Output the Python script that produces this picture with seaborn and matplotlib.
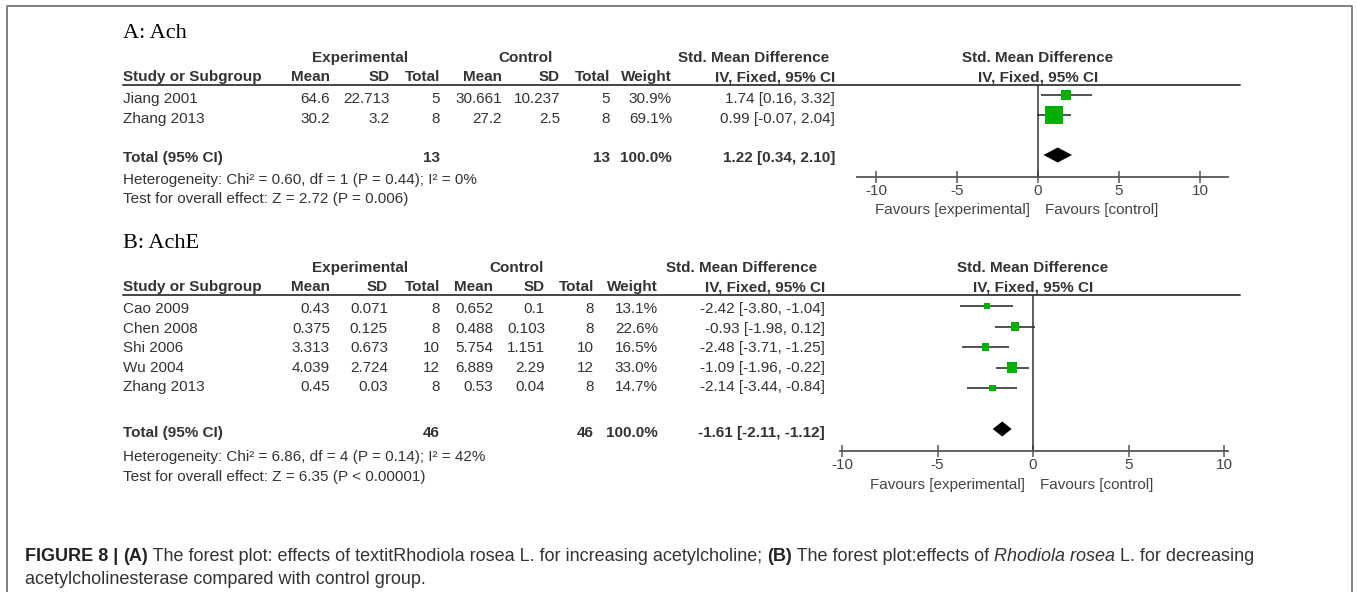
import matplotlib
matplotlib.use('Agg')
import matplotlib.pyplot as plt
import seaborn as sns
import pandas as pd

W, H = 1357, 592

# ---- Panel A: Ach ----
a_study = ['Jiang 2001', 'Zhang 2013']
a_exp_mean = ['64.6', '30.2']
a_exp_sd = ['22.713', '3.2']
a_exp_n = [5, 8]
a_ctl_mean = ['30.661', '27.2']
a_ctl_sd = ['10.237', '2.5']
a_ctl_n = [5, 8]
a_weight = [30.9, 69.1]
a_smd = [1.74, 0.99]
a_lo = [0.16, -0.07]
a_hi = [3.32, 2.04]
# total: exp n, ctl n, weight, smd, lo, hi
a_total = (13, 13, 100.0, 1.22, 0.34, 2.10)
a_het = 'Heterogeneity: Chi\u00b2 = 0.60, df = 1 (P = 0.44); I\u00b2 = 0%'
a_test = 'Test for overall effect: Z = 2.72 (P = 0.006)'

# ---- Panel B: AchE ----
b_study = ['Cao 2009', 'Chen 2008', 'Shi 2006', 'Wu 2004', 'Zhang 2013']
b_exp_mean = ['0.43', '0.375', '3.313', '4.039', '0.45']
b_exp_sd = ['0.071', '0.125', '0.673', '2.724', '0.03']
b_exp_n = [8, 8, 10, 12, 8]
b_ctl_mean = ['0.652', '0.488', '5.754', '6.889', '0.53']
b_ctl_sd = ['0.1', '0.103', '1.151', '2.29', '0.04']
b_ctl_n = [8, 8, 10, 12, 8]
b_weight = [13.1, 22.6, 16.5, 33.0, 14.7]
b_smd = [-2.42, -0.93, -2.48, -1.09, -2.14]
b_lo = [-3.80, -1.98, -3.71, -1.96, -3.44]
b_hi = [-1.04, 0.12, -1.25, -0.22, -0.84]
b_total = (46, 46, 100.0, -1.61, -2.11, -1.12)
b_het = 'Heterogeneity: Chi\u00b2 = 6.86, df = 4 (P = 0.14); I\u00b2 = 42%'
b_test = 'Test for overall effect: Z = 6.35 (P < 0.00001)'

ticks = [-10, -5, 0, 5, 10]

sns.set_style('white')
plt.rcParams['font.family'] = ['Liberation Sans', 'DejaVu Sans']

TXT = '#333333'
FS = 11
GREEN = '#00b000'

fig = plt.figure(figsize=(W / 100, H / 100), dpi=100)
bg = fig.add_axes([0, 0, 1, 1])
bg.set_xlim(0, W)
bg.set_ylim(H, 0)
bg.axis('off')

# frame around the figure
bg.plot([7, 7, 1352, 1352], [H + 5, 6, 6, H + 5], color='#777777', lw=1.3)


def t(x, y, s, ha='left', bold=False, size=FS, color=TXT, **kw):
    return bg.text(x, y, s, ha=ha, va='center', fontsize=size,
                   fontweight='bold' if bold else 'normal', color=color, **kw)


def panel(title, lay, study, em, esd, en, cm, csd, cn, w, smd, lo, hi, total, het, test):
    t(123, lay['title_y'], title, size=16, color='black', family='Liberation Serif')
    h1, h2 = lay['head1_y'], lay['head2_y']
    t(360, h1, 'Experimental', ha='center', bold=True)
    t(lay['ctl_c'], h1, 'Control', ha='center', bold=True)
    t(lay['smd_c'], h1, 'Std. Mean Difference', ha='center', bold=True)
    t(lay['zero'], h1, 'Std. Mean Difference', ha='center', bold=True)
    t(123, h2, 'Study or Subgroup', bold=True)
    heads = ['Mean', 'SD', 'Total', 'Mean', 'SD', 'Total', 'Weight', 'IV, Fixed, 95% CI']
    cols = lay['cols']
    for x, hd in zip(cols, heads):
        t(x, h2, hd, ha='right', bold=True)
    t(lay['zero'], h2, 'IV, Fixed, 95% CI', ha='center', bold=True)
    bg.plot([123, 1240], [lay['line_y']] * 2, color='#444444', lw=1.4)

    for i in range(len(study)):
        y = lay['row_y0'] + i * lay['row_dy']
        t(123, y, study[i])
        vals = [em[i], esd[i], str(en[i]), cm[i], csd[i], str(cn[i]),
                f'{w[i]:.1f}%', f'{smd[i]:.2f} [{lo[i]:.2f}, {hi[i]:.2f}]']
        for x, v in zip(cols, vals):
            t(x, y, v, ha='right')

    ne, nc, tw, te, tlo, thi = total
    ty = lay['total_y']
    t(123, ty, 'Total (95% CI)', bold=True)
    t(cols[2], ty, str(ne), ha='right', bold=True)
    t(cols[5], ty, str(nc), ha='right', bold=True)
    t(cols[6], ty, f'{tw:.1f}%', ha='right', bold=True)
    t(cols[7], ty, f'{te:.2f} [{tlo:.2f}, {thi:.2f}]', ha='right', bold=True)
    t(123, lay['het_y'], het)
    t(123, lay['test_y'], test)

    # forest plot
    x0, x1, y0, y1 = lay['forest']
    zero, scale, r0, dy = lay['zero'], lay['scale'], lay['mark_y0'], lay['mark_dy']
    ax = fig.add_axes([x0 / W, 1 - y1 / H, (x1 - x0) / W, (y1 - y0) / H])
    ax.set_xlim((x0 - zero) / scale, (x1 - zero) / scale)
    ax.set_ylim((y1 - r0) / dy, (y0 - r0) / dy)
    ax.patch.set_alpha(0)
    for s in ['left', 'right', 'top']:
        ax.spines[s].set_visible(False)
    ax.spines['bottom'].set_color('#555555')
    ax.spines['bottom'].set_linewidth(1.3)
    ax.set_yticks([])
    ax.set_xticks(ticks)
    ax.set_xticklabels([str(v) for v in ticks])
    ax.tick_params(axis='x', direction='inout', length=8.6, width=1.1, color='#555555',
                   labelcolor='#444444', labelsize=FS, pad=1, bottom=True)
    ax.axvline(0, color='#333333', lw=1.1, zorder=1)

    rows = list(range(len(study)))
    ax.hlines(rows, lo, hi, color='#333333', lw=1.2, zorder=2)
    df = pd.DataFrame({'smd': smd, 'row': rows, 'weight': w})
    sizes = {v: ((4.0 + 0.19 * v) * 0.72) ** 2 for v in w}
    sns.scatterplot(data=df, x='smd', y='row', size='weight', sizes=sizes, marker='s',
                    color=GREEN, linewidth=0, legend=False, ax=ax, zorder=3)
    ax.set_xlabel('')
    ax.set_ylabel('')
    trow = len(study) + 1
    hh = 7.5 / dy
    ax.fill([tlo, te, thi, te], [trow, trow - hh, trow, trow + hh], color='black', lw=0, zorder=3)

    fy = lay['fav_y']
    t(zero - 8, fy, 'Favours [experimental]', ha='right', color='#444444')
    t(zero + 7, fy, 'Favours [control]', ha='left', color='#444444')


lay_a = dict(title_y=33, head1_y=58, head2_y=77, line_y=85, row_y0=99, row_dy=20,
             total_y=158, het_y=180, test_y=199,
             cols=[330, 390, 440, 502, 560, 610, 672, 835], ctl_c=526, smd_c=754,
             forest=(857, 1228, 85, 177), zero=1038, scale=16.2, mark_y0=95, mark_dy=20,
             fav_y=210)
lay_b = dict(title_y=243, head1_y=268, head2_y=287, line_y=294.5, row_y0=309, row_dy=19.6,
             total_y=433, het_y=457, test_y=477,
             cols=[330, 388, 440, 493, 545, 594, 658, 825], ctl_c=517, smd_c=742,
             forest=(840, 1228, 294.5, 451), zero=1033, scale=19.1, mark_y0=306, mark_dy=20.5,
             fav_y=485)

panel('A: Ach', lay_a, a_study, a_exp_mean, a_exp_sd, a_exp_n, a_ctl_mean, a_ctl_sd, a_ctl_n,
      a_weight, a_smd, a_lo, a_hi, a_total, a_het, a_test)
panel('B: AchE', lay_b, b_study, b_exp_mean, b_exp_sd, b_exp_n, b_ctl_mean, b_ctl_sd, b_ctl_n,
      b_weight, b_smd, b_lo, b_hi, b_total, b_het, b_test)

# caption with mixed styles
CFS = 12.95
cap1 = [('FIGURE 8 | ', 'bold', 'normal'), ('(A)', 'bold', 'normal'),
        (' The forest plot: effects of textitRhodiola rosea L. for increasing acetylcholine; ', 'normal', 'normal'),
        ('(B)', 'bold', 'normal'), (' The forest plot:effects of ', 'normal', 'normal'),
        ('Rhodiola rosea', 'normal', 'italic'), (' L. for decreasing', 'normal', 'normal')]
cap2 = [('acetylcholinesterase compared with control group.', 'normal', 'normal')]


def caption_line(x, y, parts):
    s, fw, st = parts[0]
    prev = bg.text(x, y, s, ha='left', va='bottom', fontsize=CFS, fontweight=fw, fontstyle=st,
                   color='#222222' if fw == 'bold' else '#333333')
    for s, fw, st in parts[1:]:
        prev = bg.annotate(s, xy=(1, 0), xycoords=prev, ha='left', va='bottom', fontsize=CFS,
                           fontweight=fw, fontstyle=st,
                           color='#222222' if fw == 'bold' else '#333333')


caption_line(25, 565, cap1)
caption_line(25, 588, cap2)

fig.savefig('out.png', dpi=100)
